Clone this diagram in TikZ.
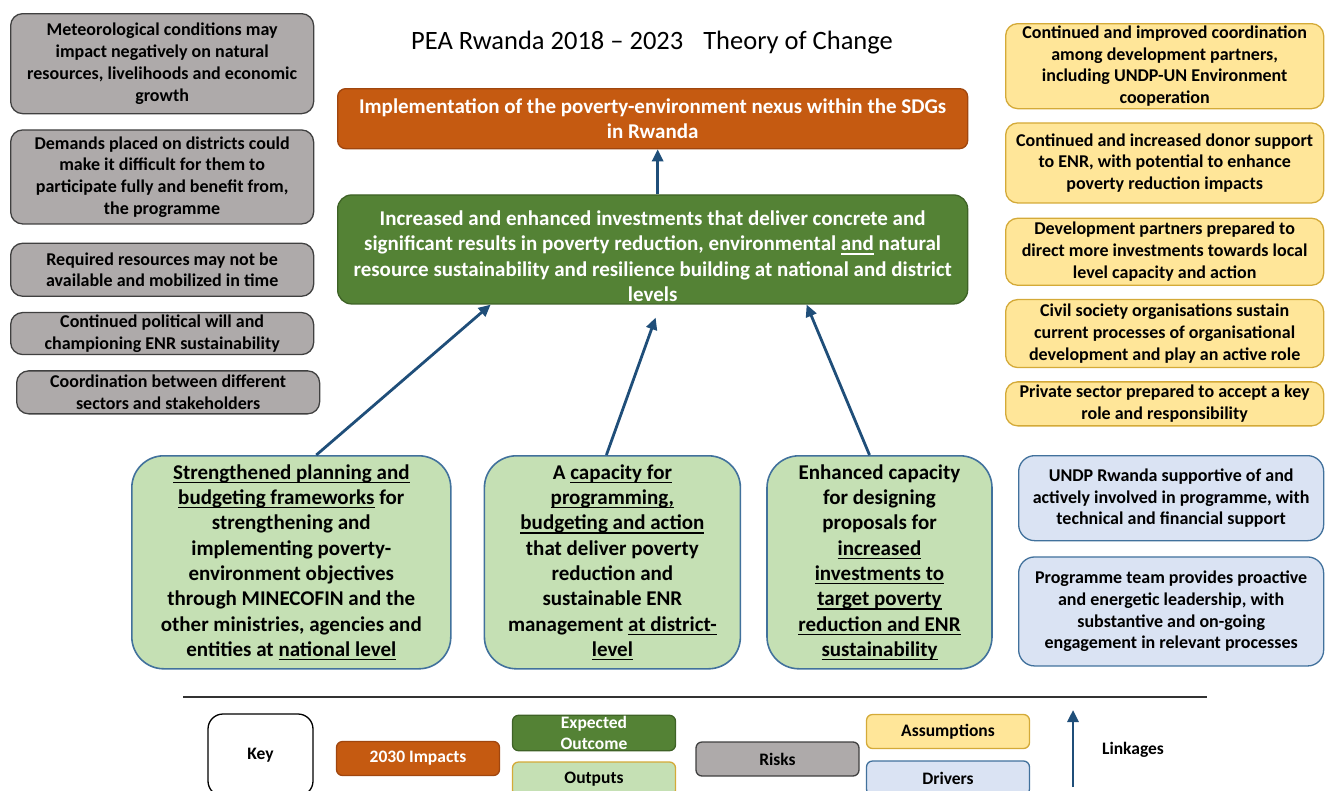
\documentclass[tikz,border=0pt]{standalone}
\usepackage{fontspec}
\setmainfont{Carlito}
\usetikzlibrary{positioning, arrows.meta}

\definecolor{impactfill}{RGB}{197,90,17}
\definecolor{impactline}{RGB}{160,70,14}
\definecolor{outcomefill}{RGB}{84,130,53}
\definecolor{outcomeline}{RGB}{62,98,38}
\definecolor{outputfill}{RGB}{197,224,180}
\definecolor{outputline}{RGB}{65,113,156}
\definecolor{riskfill}{RGB}{174,170,170}
\definecolor{riskline}{RGB}{64,64,64}
\definecolor{assumefill}{RGB}{255,230,153}
\definecolor{assumeline}{RGB}{212,170,56}
\definecolor{driverfill}{RGB}{218,227,243}
\definecolor{driverline}{RGB}{65,113,156}
\definecolor{linkblue}{RGB}{31,78,121}
\definecolor{ruleline}{RGB}{50,50,50}

\newcommand{\boxfont}{\bfseries\fontsize{18}{21.7}\selectfont}
\newcommand{\bigboxfont}{\bfseries\fontsize{21}{25.3}\selectfont}
\newcommand{\keyfont}{\bfseries\fontsize{17.5}{21}\selectfont}

% underline with a fixed depth, whatever the letters
\newsavebox{\ubox}
\newcommand{\uword}[1]{\sbox{\ubox}{#1}\rlap{\rule[-3.8pt]{\wd\ubox}{1.2pt}}\usebox{\ubox}}

\tikzset{
  tocbox/.style={
    rectangle, align=center, inner sep=1pt, line width=1.3pt
  },
  riskbox/.style={tocbox, rounded corners=12pt,
    draw=riskline, fill=riskfill, minimum width=303pt, font=\boxfont},
  assumebox/.style={tocbox, rounded corners=12pt,
    draw=assumeline, fill=assumefill, minimum width=318pt, font=\boxfont},
  driverbox/.style={tocbox, rounded corners=16pt,
    draw=driverline, fill=driverfill, minimum width=305pt, font=\boxfont},
  impactbox/.style={tocbox, rounded corners=8pt,
    draw=impactline, fill=impactfill, text=white,
    minimum width=630pt, font=\bigboxfont},
  outcomebox/.style={tocbox, rounded corners=14pt,
    draw=outcomeline, fill=outcomefill, text=white,
    minimum width=630pt, font=\bigboxfont},
  outputbox/.style={tocbox, rounded corners=32pt, line width=1.6pt,
    draw=outputline, fill=outputfill, minimum height=213pt, font=\bigboxfont},
  keybox/.style={tocbox, rounded corners=6pt,
    minimum width=163pt, minimum height=34pt, font=\keyfont},
  linkarrow/.style={
    -{Triangle[length=12pt,width=11pt]}, draw=linkblue, line width=2.8pt
  }
}

\begin{document}
\begin{tikzpicture}[x=1pt, y=-1pt]
  \useasboundingbox (0,0) rectangle (1325,790);
  \clip (0,0) rectangle (1325,790);

  \node[font=\fontsize{26.5}{30}\selectfont] (title) at (652,43)
    {PEA Rwanda 2018 -- 2023\hspace{20pt}Theory of Change};

  % impact and outcome in the middle
  \node[impactbox, minimum height=60pt, anchor=north west] (impact) at (337,88)
    {Implementation of the poverty-environment nexus within the SDGs\\in Rwanda};
  % taller first line keeps the text low in the box
  \node[outcomebox, minimum height=109pt, below=45pt of impact] (outcome)
    {\rule{0pt}{28pt}Increased and enhanced investments that deliver concrete and\\
     significant results in poverty reduction, environmental \uword{and} natural\\
     resource sustainability and resilience building at national and district\\
     levels};

  % risks, left column
  \node[riskbox, minimum height=100pt, anchor=north west] (risk1) at (10,13)
    {Meteorological conditions may\\impact negatively on natural\\
     resources, livelihoods and economic\\growth};
  \node[riskbox, minimum height=94pt, below=15pt of risk1] (risk2)
    {Demands placed on districts could\\make it difficult for them to\\
     participate fully and benefit from,\\the programme};
  \node[riskbox, minimum height=53pt, below=18pt of risk2] (risk3)
    {Required resources may not be\\available and mobilized in time};
  \node[riskbox, minimum height=42pt, below=15pt of risk3] (risk4)
    {Continued political will and\\championing ENR sustainability};
  \node[riskbox, minimum height=43pt, below=15pt of risk4, xshift=6pt] (risk5)
    {Coordination between different\\sectors and stakeholders};

  % assumptions, right column
  \node[assumebox, minimum height=85pt, anchor=north west] (assume1) at (1005,23)
    {Continued and improved coordination\\among development partners,\\
     including UNDP-UN Environment\\cooperation};
  \node[assumebox, minimum height=80pt, below=13pt of assume1] (assume2)
    {Continued and increased donor support\\to ENR, with potential to enhance\\
     poverty reduction impacts};
  \node[assumebox, minimum height=67pt, below=14pt of assume2] (assume3)
    {Development partners prepared to\\direct more investments towards local\\
     level capacity and action};
  \node[assumebox, minimum height=68pt, below=13pt of assume3] (assume4)
    {Civil society organisations sustain\\current processes of organisational\\
     development and play an active role};
  \node[assumebox, minimum height=44pt, below=13pt of assume4] (assume5)
    {Private sector prepared to accept a key\\role and responsibility};

  % outputs
  \node[outputbox, minimum width=319pt, anchor=north west] (output1) at (131,455)
    {\uword{Strengthened planning and}\\\uword{budgeting frameworks} for\\
     strengthening and\\implementing poverty-\\environment objectives\\
     through MINECOFIN and the\\other ministries, agencies and\\
     entities at \uword{national level}};
  \node[outputbox, minimum width=256pt, right=32pt of output1] (output2)
    {A \uword{capacity for}\\\uword{programming,}\\\uword{budgeting and action}\\
     that deliver poverty\\reduction and\\sustainable ENR\\
     management \uword{at district-}\\\uword{level}};
  \node[outputbox, minimum width=225pt, right=25pt of output2] (output3)
    {Enhanced capacity\\for designing\\proposals for\\\uword{increased}\\
     \uword{investments to}\\\uword{target poverty}\\\uword{reduction and ENR}\\
     \uword{sustainability}};

  % drivers
  \node[driverbox, minimum height=85pt, anchor=north west] (driver1) at (1018,455)
    {UNDP Rwanda supportive of and\\actively involved in programme, with\\
     technical and financial support};
  \node[driverbox, minimum height=109pt, below=15pt of driver1] (driver2)
    {Programme team provides proactive\\and energetic leadership, with\\
     substantive and on-going\\engagement in relevant processes};

  % linkages
  \draw[linkarrow] ([xshift=5pt]outcome.north) -- ([xshift=5pt]impact.south);
  \draw[linkarrow] ([xshift=25pt]output1.north) -- ([xshift=-162pt]outcome.south);
  \draw[linkarrow] ([xshift=-6pt]output2.north) -- ([xshift=3pt,yshift=-13pt]outcome.south);
  \draw[linkarrow] ([xshift=-10pt]output3.north) -- ([xshift=154pt]outcome.south);

  % key along the bottom
  \coordinate (ruleleft) at (183,697);
  \coordinate (ruleright) at (1207,697);
  \draw[ruleline, line width=2.6pt] (ruleleft) -- (ruleright);

  \node[keybox, rounded corners=15pt, draw=black, fill=white,
    minimum width=105pt, minimum height=82pt] (key) at (260.5,755) {Key};
  \node[keybox, draw=impactline, fill=impactfill, text=white] (keyimpact)
    at (418,758.5) {2030 Impacts};
  \node[keybox, draw=outcomeline, fill=outcomefill, text=white] (keyoutcome)
    at (594,733) {Expected\\Outcome};
  \node[keybox, draw=assumeline, fill=outputfill] (keyoutput)
    at (594,779) {Outputs};
  \node[keybox, draw=riskline, fill=riskfill] (keyrisk)
    at (777.5,759) {Risks};
  \node[keybox, draw=assumeline, fill=assumefill] (keyassume)
    at (948,731.5) {Assumptions};
  \node[keybox, draw=driverline, fill=driverfill] (keydriver)
    at (948,778) {Drivers};

  \coordinate (linkfoot) at (1073,787);
  \coordinate (linkhead) at (1073,710);
  \draw[linkarrow] (linkfoot) -- (linkhead);
  \node[font=\keyfont] (keylink) at (1133,750) {Linkages};
\end{tikzpicture}
\end{document}
